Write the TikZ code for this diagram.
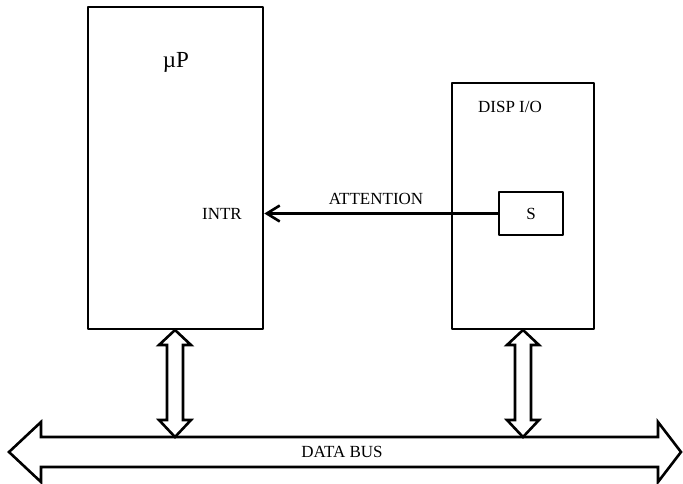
\documentclass[tikz,border=0pt]{standalone}
\usepackage{fontspec}
\setmainfont{Liberation Serif}
\usetikzlibrary{arrows.meta}
\begin{document}
\begin{tikzpicture}[x=1pt,y=-1pt,
  box/.style={draw,line width=2.6pt,line join=round,inner sep=0pt},
  lbl/.style={inner sep=0pt,font=\fontsize{17}{20}\selectfont},
  fat/.style={draw,line width=2.6pt,line join=miter,fill=white}]
\useasboundingbox (0,0) rectangle (683,484);
% boxes
\node[box,minimum width=175pt,minimum height=322pt] (up) at (175.5,168) {};
\node[box,minimum width=142pt,minimum height=246pt] (disp) at (523,206) {};
\node[box,minimum width=64pt,minimum height=43pt] (s) at (531,213.5) {};
% texts
\node[inner sep=0pt,font=\fontsize{23}{26}\selectfont] (uplbl) at (176,62) {µP};
\node[lbl] (displbl) at (510,107) {DISP I/O};
\node[lbl] (intr) at (222,214) {INTR};
\node[lbl] (att) at (376,199) {ATTENTION};
\node[lbl] (slbl) at (531,214) {S};
% attention connector
\draw[line width=2.6pt,-{Straight Barb[length=13pt,width=16pt,line width=2.6pt]}] (s.west) -- (up.east |- s.west);
% data bus
\draw[fat] (9,452) -- (41,422) -- (41,437) -- (658,437) -- (658,422) -- (681,452)
  -- (658,482) -- (658,467) -- (41,467) -- (41,482) -- cycle;
\node[lbl] (bus) at (342,452) {DATA BUS};
% vertical double arrows
\draw[fat] (175,330) -- (191,345) -- (183,345) -- (183,420) -- (191,420) -- (175,437)
  -- (159,420) -- (167,420) -- (167,345) -- (159,345) -- cycle;
\draw[fat] (523,330) -- (539,345) -- (531,345) -- (531,420) -- (539,420) -- (523,437)
  -- (507,420) -- (515,420) -- (515,345) -- (507,345) -- cycle;
\end{tikzpicture}
\end{document}
